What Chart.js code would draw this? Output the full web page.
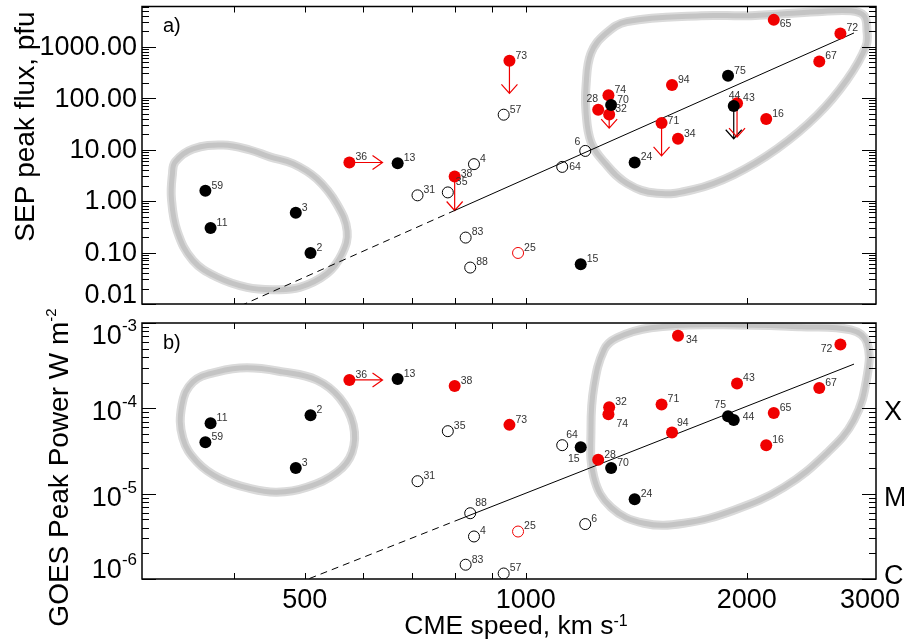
<!DOCTYPE html>
<html>
<head>
<meta charset="utf-8">
<title>SEP flux and GOES peak vs CME speed</title>
<script src="https://cdn.jsdelivr.net/npm/chart.js@4.4.1/dist/chart.umd.min.js"></script>
<style>
  html, body { margin: 0; padding: 0; background: #fff; }
  #wrap { position: relative; width: 904px; height: 642px; overflow: hidden; }
  .panel { position: absolute; left: 0; width: 904px; }
  #boxA { top: 0; height: 320px; }
  #boxB { top: 300px; height: 342px; }
</style>
</head>
<body>
<div id="wrap">
  <div class="panel" id="boxA"><canvas id="chartA"></canvas></div>
  <div class="panel" id="boxB"><canvas id="chartB"></canvas></div>
</div>
<script>
/* =========================
   DATA
========================= */
const eventIds   = [59, 11, 3, 2, 36, 13, 31, 35, 38, 4, 83, 88, 73, 57, 25, 15, 64, 6, 28, 74, 70, 32, 94, 75, 44, 43, 71, 34, 24, 16, 65, 67, 72];
const cmeSpeed   = [366, 372, 486, 509, 575, 669, 712, 783, 800, 850, 828, 840, 950, 933, 976, 1188, 1121, 1205, 1255, 1296, 1307, 1299, 1582, 1886, 1920, 1940, 1531, 1612, 1407, 2126, 2177, 2511, 2683];
const sepFlux    = [1.58, 0.30, 0.59, 0.098, 5.6, 5.4, 1.29, 1.47, 3.0, 5.2, 0.195, 0.051, 530, 47.5, 0.098, 0.059, 4.6, 9.4, 59, 113, 73, 48, 179, 270, 70, 79, 32.8, 16.2, 5.6, 39, 3300, 515, 1800];
const goesPeak   = [4.0e-5, 6.7e-5, 2.0e-5, 8.3e-5, 2.15e-4, 2.2e-4, 1.4e-5, 5.4e-5, 1.83e-4, 3.15e-6, 1.47e-6, 5.9e-6, 6.4e-5, 1.16e-6, 3.6e-6, 3.5e-5, 3.7e-5, 4.4e-6, 2.5e-5, 8.5e-5, 2.0e-5, 1.03e-4, 5.2e-5, 8.1e-5, 7.3e-5, 1.95e-4, 1.11e-4, 7.1e-4, 8.6e-6, 3.7e-5, 8.8e-5, 1.73e-4, 5.6e-4];
// k = filled black, r = filled red, o = open black, or = open red
const markerKind = ['k', 'k', 'k', 'k', 'r', 'k', 'o', 'o', 'r', 'o', 'o', 'o', 'r', 'o', 'or', 'k', 'o', 'o', 'r', 'r', 'k', 'r', 'r', 'k', 'k', 'r', 'r', 'r', 'k', 'r', 'r', 'r', 'r'];

// limits (arrows)
const fluxLimitIds  = [73, 38, 32, 71, 44, 43];
const fluxLimitTo   = [123, 0.655, 26, 7.5, 16.2, 17.4];
const speedLimitIds = [36];
const speedLimitTo  = [638];

// fitted power laws (dashed part first, solid part after 800 km/s)
const fitSpeed = [300, 800, 2800];
const fitFlux  = [0.0013, 0.655, 1840];
const fitGoes  = [1.7e-7, 4.76e-6, 3.3e-4];

// grey group outlines
const groupA1Speed = [333, 352, 387, 421, 448, 482, 519, 553, 571, 562, 536, 492, 452, 417, 380, 352, 335, 329, 330];
const groupA1Flux  = [5.8, 10.3, 12.2, 9.8, 7.2, 5.3, 2.7, 0.87, 0.26, 0.095, 0.039, 0.021, 0.019, 0.021, 0.033, 0.07, 0.26, 1.13, 3.25];
const groupA2Speed = [1286, 1374, 1733, 2027, 2493, 2773, 2889, 2916, 2907, 2739, 2493, 2199, 1921, 1695, 1509, 1374, 1278, 1227, 1208, 1208, 1227];
const groupA2Flux  = [1800, 3060, 3980, 3980, 4750, 4970, 3980, 2050, 1010, 226, 46, 10.3, 3.25, 1.68, 1.41, 2.19, 5.78, 14, 53, 173, 744];
const groupB1Speed = [340, 352, 380, 417, 467, 519, 558, 582, 580, 553, 503, 458, 421, 383, 357, 341];
const groupB1Goes  = [1.09e-4, 2.04e-4, 2.67e-4, 2.98e-4, 2.67e-4, 2.15e-4, 1.32e-4, 6.4e-5, 3.06e-5, 1.78e-5, 1.19e-5, 1.04e-5, 1.15e-5, 1.51e-5, 2.33e-5, 4.47e-5];
const groupB2Speed = [1278, 1331, 1481, 1822, 2371, 2773, 2916, 2916, 2800, 2572, 2248, 1921, 1642, 1449, 1307, 1238, 1227, 1238];
const groupB2Goes  = [4.85e-4, 6.7e-4, 8.8e-4, 9.55e-4, 9.05e-4, 8.3e-4, 5.9e-4, 2.33e-4, 7.3e-5, 3.0e-5, 1.19e-5, 6.4e-6, 4.5e-6, 4.5e-6, 6.9e-6, 1.56e-5, 6.0e-5, 1.78e-4];

// axes
const speedTicks      = [500, 1000, 2000, 3000];
const speedMinorTicks = [400, 500, 600, 700, 800, 900, 1000, 2000];
const fluxTicks       = [0.01, 0.1, 1, 10, 100, 1000];
const goesTicks       = [1e-6, 1e-5, 1e-4, 1e-3];
const goesClassLabels = ['C', 'M', 'X'];
const goesClassLevels = [1e-6, 1e-5, 1e-4];

/* =========================
   STYLE
========================= */
const FONT = '"Liberation Sans", Arial, Helvetica, sans-serif';
const RED = '#f00000';
const GREY_OUT = '#dadada';
const GREY_IN = '#c4c4c4';

// where point numbers sit when not at the default upper right
const nudgeA = { 28: [0, -11, 'right'], 44: [-5, -10, 'left'], 6: [-5, -9, 'right'], 65: [6, 4, 'left'],
                 64: [7, 0, 'left'], 35: [8, -10, 'left'], 38: [6, -2, 'left'], 71: [6, -2, 'left'] };
const nudgeB = { 88: [5, -10, 'left'], 64: [4, -10, 'left'], 15: [-1, 12, 'right'], 74: [8, 10, 'left'],
                 94: [5, -9, 'left'], 75: [-2, -11, 'right'], 44: [9, -3, 'left'], 72: [-8, 5, 'right'], 34: [8, 4, 'left'] };

/* =========================
   HELPERS
========================= */
const xy = (xs, ys) => xs.map((x, i) => ({ x, y: ys[i] }));
// wrap the ring so every visible segment has real neighbours (smooth join)
const ring = pts => [pts[pts.length - 1]].concat(pts, [pts[0], pts[1]]);
const colorOf = i => (markerKind[i] === 'r' || markerKind[i] === 'or') ? RED : '#000';

function pointSets(yVals) {
  const pick = kind => eventIds
    .map((id, i) => ({ x: cmeSpeed[i], y: yVals[i], k: markerKind[i] }))
    .filter(p => p.k === kind);
  return [
    { data: pick('k'), pointRadius: 6, pointBackgroundColor: '#000', pointBorderWidth: 0, order: 1 },
    { data: pick('r'), pointRadius: 6, pointBackgroundColor: RED, pointBorderWidth: 0, order: 1 },
    { data: pick('o'), pointRadius: 5.5, pointBackgroundColor: 'rgba(0,0,0,0)', pointBorderColor: '#000', pointBorderWidth: 1, order: 1 },
    { data: pick('or'), pointRadius: 5.5, pointBackgroundColor: 'rgba(0,0,0,0)', pointBorderColor: RED, pointBorderWidth: 1, order: 1 }
  ];
}

function outline(pts) {
  const data = ring(pts);
  const last = data.length - 1;
  const hideEnds = c => (c.p0DataIndex === 0 || c.p1DataIndex === last) ? 'rgba(0,0,0,0)' : undefined;
  const base = { showLine: true, pointRadius: 0, tension: 0.4, capBezierPoints: false, fill: false, segment: { borderColor: hideEnds } };
  return [
    Object.assign({ data, borderColor: GREY_OUT, borderWidth: 9, order: 11 }, base),
    Object.assign({ data, borderColor: GREY_IN, borderWidth: 5, order: 10 }, base)
  ];
}

function fitSets(ys) {
  const dashed = xy(fitSpeed.slice(0, 2), ys.slice(0, 2));
  const solid = xy(fitSpeed.slice(1), ys.slice(1));
  return [
    { data: dashed, showLine: true, pointRadius: 0, borderColor: '#000', borderWidth: 1, borderDash: [7, 5], order: 5 },
    { data: solid, showLine: true, pointRadius: 0, borderColor: '#000', borderWidth: 1, order: 5 }
  ];
}

function line(ctx, x0, y0, x1, y1) {
  ctx.beginPath(); ctx.moveTo(x0, y0); ctx.lineTo(x1, y1); ctx.stroke();
}

function drawTitle(ctx, main, sup, size, supSize, rise, x, y, rotated) {
  ctx.save();
  ctx.translate(x, y);
  if (rotated) ctx.rotate(-Math.PI / 2);
  ctx.font = `${size}px ${FONT}`;
  const wm = ctx.measureText(main).width;
  ctx.font = `${supSize}px ${FONT}`;
  const ws = sup ? ctx.measureText(sup).width : 0;
  const start = -(wm + ws) / 2;
  ctx.fillStyle = '#000';
  ctx.textAlign = 'left';
  ctx.textBaseline = 'alphabetic';
  ctx.font = `${size}px ${FONT}`;
  ctx.fillText(main, start, 0);
  if (sup) {
    ctx.font = `${supSize}px ${FONT}`;
    ctx.fillText(sup, start + wm, -rise);
  }
  ctx.restore();
}

/* =========================
   DECORATION PLUGIN
========================= */
const panelCfg = {};

function drawArrows(chart, cfg) {
  const { ctx } = chart;
  const xs = chart.scales.x, ys = chart.scales.y;
  ctx.save();
  ctx.lineWidth = 1.2;
  cfg.arrows.forEach(ar => {
    const i = eventIds.indexOf(ar.id);
    const x0 = xs.getPixelForValue(cmeSpeed[i]);
    const y0 = ys.getPixelForValue(cfg.yVals[i]);
    let x1 = x0, y1 = y0;
    if (ar.axis === 'y') y1 = ys.getPixelForValue(ar.to);
    else x1 = xs.getPixelForValue(ar.to);
    ctx.strokeStyle = colorOf(i);
    ctx.beginPath();
    ctx.moveTo(x0, y0); ctx.lineTo(x1, y1);
    if (ar.axis === 'y') { ctx.moveTo(x1 - 8, y1 - 9); ctx.lineTo(x1, y1); ctx.lineTo(x1 + 8, y1 - 9); }
    else { ctx.moveTo(x1 - 10, y1 - 7); ctx.lineTo(x1, y1); ctx.lineTo(x1 - 10, y1 + 7); }
    ctx.stroke();
  });
  ctx.restore();
}

function drawAxes(chart, cfg) {
  const { ctx, chartArea: a } = chart;
  const xs = chart.scales.x, ys = chart.scales.y;
  ctx.save();
  ctx.strokeStyle = '#000';
  ctx.lineWidth = 1;

  speedMinorTicks.forEach(v => {
    const px = Math.round(xs.getPixelForValue(v)) + 0.5;
    line(ctx, px, a.bottom, px, a.bottom - 6);
    line(ctx, px, a.top, px, a.top + 6);
  });

  const lo = Math.floor(Math.log10(ys.min)), hi = Math.ceil(Math.log10(ys.max));
  for (let e = lo; e <= hi; e++) {
    for (let m = 1; m <= 9; m++) {
      const v = m * Math.pow(10, e);
      if (v < ys.min * 0.999 || v > ys.max * 1.001) continue;
      const len = m === 1 ? 14 : 7;
      const py = Math.round(ys.getPixelForValue(v)) + 0.5;
      line(ctx, a.left, py, a.left + len, py);
      line(ctx, a.right, py, a.right - len, py);
    }
  }

  ctx.lineWidth = 1.5;
  ctx.strokeRect(a.left, a.top, a.right - a.left, a.bottom - a.top);

  // y tick labels
  ctx.fillStyle = '#000';
  ctx.textBaseline = 'middle';
  ctx.textAlign = 'right';
  if (cfg.yLabels === 'fixed') {
    ctx.font = `27px ${FONT}`;
    fluxTicks.forEach(v => {
      let cy = ys.getPixelForValue(v);
      cy = Math.min(Math.max(cy, a.top + 9), a.bottom - 9);
      ctx.fillText(v.toFixed(2), a.left - 5, cy + 1);
    });
  } else {
    goesTicks.forEach(v => {
      let cy = ys.getPixelForValue(v) + 2.5;
      cy = Math.min(Math.max(cy, a.top + 11), a.bottom - 11);
      const sup = String(Math.round(Math.log10(v)));
      ctx.font = `17px ${FONT}`;
      const ws = ctx.measureText(sup).width;
      ctx.textBaseline = 'alphabetic';
      const base = cy + 9.5;
      ctx.fillText(sup, a.left - 5, base - 13);
      ctx.font = `27px ${FONT}`;
      ctx.fillText('10', a.left - 5 - ws, base);
    });
    // flare classes on the right
    ctx.textAlign = 'left';
    ctx.textBaseline = 'alphabetic';
    ctx.font = `27px ${FONT}`;
    goesClassLevels.forEach((v, k) => {
      const cy = Math.min(ys.getPixelForValue(v) + 2.5, a.bottom - 5);
      ctx.fillText(goesClassLabels[k], a.right + 8, cy + 9.5);
    });
    // speed labels
    ctx.textAlign = 'center';
    speedTicks.forEach(v => {
      let cx = xs.getPixelForValue(v);
      const w = ctx.measureText(String(v)).width;
      cx = Math.min(cx, chart.width - 4 - w / 2);
      ctx.fillText(String(v), cx, a.bottom + 28.5);
    });
  }
  ctx.restore();
}

function drawPointLabels(chart, cfg) {
  const { ctx } = chart;
  const xs = chart.scales.x, ys = chart.scales.y;
  ctx.save();
  ctx.font = `10.5px ${FONT}`;
  ctx.fillStyle = '#333';
  ctx.textBaseline = 'middle';
  eventIds.forEach((id, i) => {
    const px = xs.getPixelForValue(cmeSpeed[i]);
    const py = ys.getPixelForValue(cfg.yVals[i]);
    const [dx, dy, al] = cfg.nudge[id] || [6, -5, 'left'];
    ctx.textAlign = al;
    ctx.fillText(String(id), px + dx, py + dy);
  });
  ctx.restore();
}

const decor = {
  id: 'decor',
  beforeDatasetsDraw(chart) {
    drawArrows(chart, panelCfg[chart.canvas.id]);
  },
  afterDraw(chart) {
    const cfg = panelCfg[chart.canvas.id];
    const { ctx, chartArea: a } = chart;
    drawAxes(chart, cfg);
    drawPointLabels(chart, cfg);
    ctx.save();
    ctx.font = `20px ${FONT}`;
    ctx.fillStyle = '#000';
    ctx.textAlign = 'left';
    ctx.fillText(cfg.tag, a.left + 21, a.top + 25.5);
    ctx.restore();
    cfg.titles.forEach(t => drawTitle(ctx, ...t));
  }
};

/* =========================
   CHARTS
========================= */
function makePanel(id, yVals, yMin, yMax, padding, extraSets) {
  return new Chart(document.getElementById(id), {
    type: 'scatter',
    data: { datasets: pointSets(yVals).concat(fitSets(extraSets.fit), extraSets.groups) },
    options: {
      responsive: true,
      maintainAspectRatio: false,
      animation: false,
      layout: { padding },
      plugins: { legend: { display: false }, tooltip: { enabled: false } },
      scales: {
        x: { type: 'logarithmic', min: 300, max: 3000, display: false },
        y: { type: 'logarithmic', min: yMin, max: yMax, display: false }
      }
    },
    plugins: [decor]
  });
}

panelCfg.chartA = {
  yVals: sepFlux,
  nudge: nudgeA,
  yLabels: 'fixed',
  tag: 'a)',
  arrows: fluxLimitIds.map((id, k) => ({ id, axis: 'y', to: fluxLimitTo[k] }))
    .concat(speedLimitIds.map((id, k) => ({ id, axis: 'x', to: speedLimitTo[k] }))),
  titles: [['SEP peak flux, pfu', '', 28, 15, 0, 34, 126.5, true]]
};

panelCfg.chartB = {
  yVals: goesPeak,
  nudge: nudgeB,
  yLabels: 'pow',
  tag: 'b)',
  arrows: speedLimitIds.map((id, k) => ({ id, axis: 'x', to: speedLimitTo[k] })),
  titles: [
    ['GOES Peak Power W m', '-2', 28, 15, 12, 68, 167.5, true],
    ['CME speed, km s', '-1', 26.5, 16, 8, 516, 334, false]
  ]
};

makePanel('chartA', sepFlux, 0.01, 6000, { left: 142, right: 28, top: 3, bottom: 16 }, {
  fit: fitFlux,
  groups: outline(xy(groupA1Speed, groupA1Flux)).concat(outline(xy(groupA2Speed, groupA2Flux)))
});

makePanel('chartB', goesPeak, 1e-6, 1e-3, { left: 142, right: 28, top: 23, bottom: 63 }, {
  fit: fitGoes,
  groups: outline(xy(groupB1Speed, groupB1Goes)).concat(outline(xy(groupB2Speed, groupB2Goes)))
});
</script>
</body>
</html>
